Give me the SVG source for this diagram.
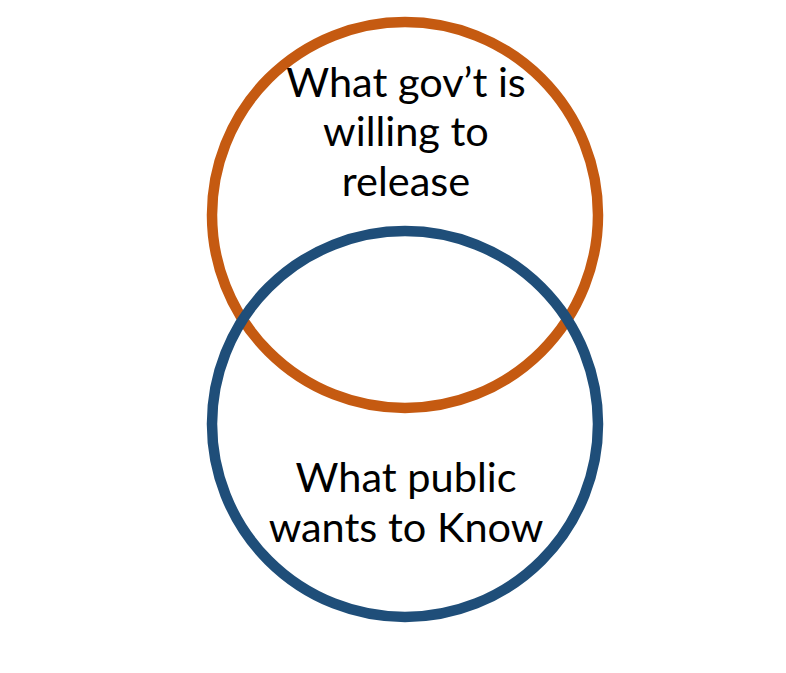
<svg xmlns="http://www.w3.org/2000/svg" width="786" height="673" viewBox="0 0 786 673">
  <style>
    .ring { fill: none; stroke-width: 10.5; }
    .label { font-family: "Lato", "Open Sans", "Liberation Sans", sans-serif; font-size: 41.5px; fill: #000000; text-anchor: middle; }
  </style>
  <rect width="786" height="673" fill="#ffffff"/>
  <!-- Venn sets -->
  <g id="gov-set">
    <circle class="ring" cx="405" cy="215" r="193" stroke="#C55A11"/>
    <text class="label" x="406" y="97">What gov’t is</text>
    <text class="label" x="406" y="146">willing to</text>
    <text class="label" x="406" y="196">release</text>
  </g>
  <g id="public-set">
    <circle class="ring" cx="405" cy="424" r="193" stroke="#1F4E79"/>
    <text class="label" x="406" y="492">What public</text>
    <text class="label" x="406" y="542">wants to Know</text>
  </g>
  <g id="connectors"></g>
</svg>
